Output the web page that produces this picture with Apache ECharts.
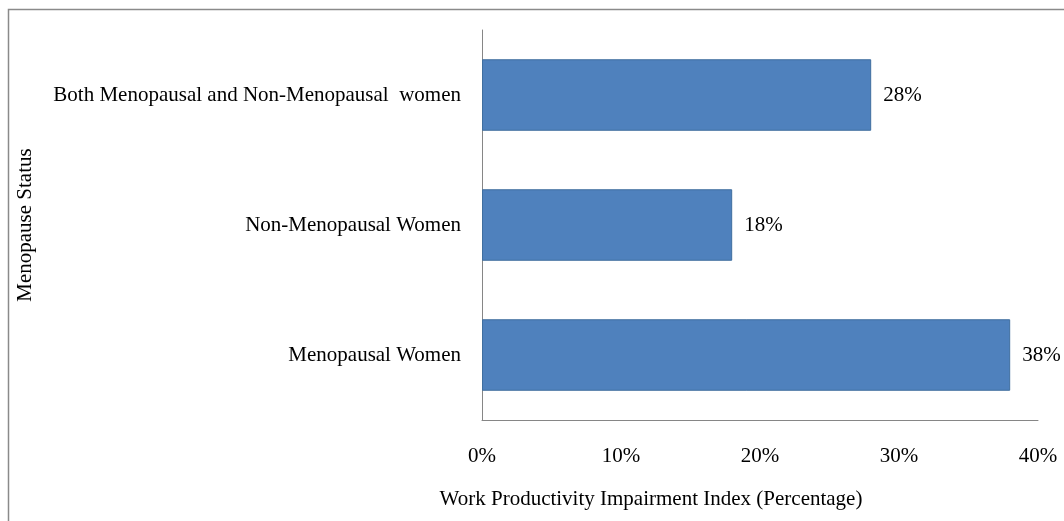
<!DOCTYPE html>
<html>
<head>
<meta charset="utf-8">
<script src="https://cdn.jsdelivr.net/npm/echarts@6/dist/echarts.min.js"></script>
<style>
  html, body { margin: 0; padding: 0; background: #fff; }
  #chart { width: 1064px; height: 521px; }
</style>
</head>
<body>
<div id="chart"></div>
<script>
// categories bottom to top
const categories = ['Menopausal Women', 'Non-Menopausal Women', 'Both Menopausal and Non-Menopausal  women']
const values = [38, 18, 28]
const xTicks = [0, 10, 20, 30, 40]

const font = '"Liberation Serif", "Times New Roman", serif'
const chart = echarts.init(document.getElementById('chart'))

chart.setOption({
  animation: false,
  textStyle: { fontFamily: font },
  graphic: [
    {
      type: 'rect',
      shape: { x: 8.5, y: 9.5, width: 1200, height: 700 },
      style: { fill: 'none', stroke: '#8a8a8a', lineWidth: 1.5 },
      silent: true,
    },
  ],
  grid: { left: 482, right: 26, top: 30, bottom: 101 },
  xAxis: {
    type: 'value',
    min: xTicks[0],
    max: xTicks[xTicks.length - 1],
    interval: 10,
    splitLine: { show: false },
    axisLine: { show: true, lineStyle: { color: '#868686', width: 1 } },
    axisTick: { show: false },
    axisLabel: {
      formatter: '{value}%',
      margin: 26,
      color: '#000',
      fontSize: 21,
      fontFamily: font,
    },
    name: 'Work Productivity Impairment Index (Percentage)',
    nameLocation: 'middle',
    nameGap: 69,
    nameTextStyle: { color: '#000', fontSize: 21, fontFamily: font, padding: [0, 218, 0, 0] },
  },
  yAxis: {
    type: 'category',
    data: categories,
    axisLine: { show: true, lineStyle: { color: '#868686', width: 1 } },
    axisTick: { show: false },
    axisLabel: { color: '#000', fontSize: 21, margin: 21, fontFamily: font },
    name: 'Menopause Status',
    nameLocation: 'middle',
    nameGap: 446,
    nameRotate: 90,
    nameTextStyle: { color: '#000', fontSize: 21, fontFamily: font },
  },
  series: [
    {
      type: 'bar',
      data: values,
      barWidth: '55%',
      itemStyle: { color: '#4F81BD', borderColor: '#3F6E9F', borderWidth: 1 },
      label: {
        show: true,
        position: 'right',
        distance: 12,
        formatter: '{c}%',
        color: '#000',
        fontSize: 21,
        fontFamily: font,
      },
    },
  ],
})
</script>
</body>
</html>
